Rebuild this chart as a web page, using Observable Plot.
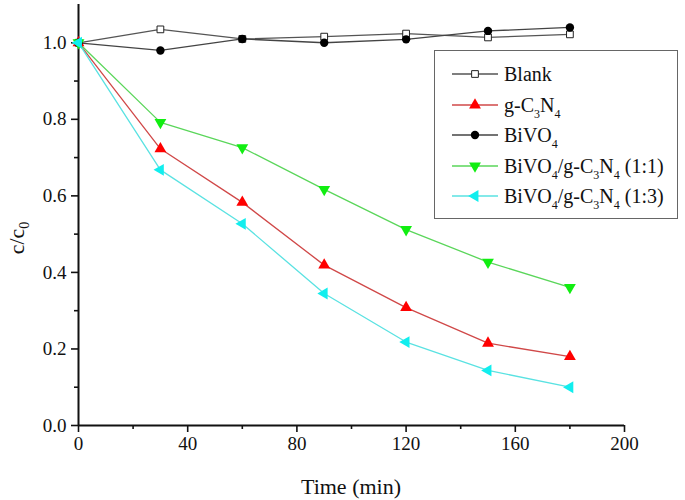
<!DOCTYPE html>
<html>
<head>
<meta charset="utf-8">
<script src="https://cdn.jsdelivr.net/npm/d3@7"></script>
<script src="https://cdn.jsdelivr.net/npm/@observablehq/plot@0.6"></script>
<style>
  html, body { margin: 0; padding: 0; background: #fff; }
  #wrap { position: relative; width: 685px; height: 500px; font-family: "Liberation Serif", "Tinos", "DejaVu Serif", serif; }
  #wrap svg text { font-family: "Liberation Serif", "Tinos", "DejaVu Serif", serif; }
  #legend { position: absolute; left: 434px; top: 50px; width: 244px; height: 169px; border: 1.3px solid #666; background: #fff; box-sizing: border-box; }
  .row { position: absolute; left: 0; height: 30px; display: flex; align-items: center; }
  .row svg { margin-left: 17px; }
  .row span { margin-left: 4px; font-size: 20px; color: #111; white-space: nowrap; line-height: 20px; font-family: "Liberation Serif", "Tinos", "DejaVu Serif", serif; }
  .row sub { font-size: 12px; vertical-align: -6px; line-height: 0; }
</style>
</head>
<body>
<div id="wrap"></div>
<script>
// ---- data ----
const times = [0, 30, 60, 90, 120, 150, 180];
const blank = [1.0, 1.035, 1.01, 1.016, 1.024, 1.014, 1.022];
const gC3N4 = [1.0, 0.723, 0.583, 0.419, 0.308, 0.215, 0.180];
const bivo4 = [1.0, 0.98, 1.01, 1.0, 1.009, 1.031, 1.04];
const bg11 = [1.0, 0.792, 0.726, 0.617, 0.512, 0.427, 0.361];
const bg13 = [1.0, 0.668, 0.527, 0.345, 0.218, 0.144, 0.100];
const seriesNames = ["Blank", "g-C3N4", "BiVO4", "BiVO4/g-C3N4 (1:1)", "BiVO4/g-C3N4 (1:3)"];
const seriesLabels = ["Blank", "g-C<sub>3</sub>N<sub>4</sub>", "BiVO<sub>4</sub>",
  "BiVO<sub>4</sub>/g-C<sub>3</sub>N<sub>4</sub> (1:1)", "BiVO<sub>4</sub>/g-C<sub>3</sub>N<sub>4</sub> (1:3)"];
const xTicks = [0, 40, 80, 120, 160, 200];
const xMinor = [20, 60, 100, 140, 180];
const yTicks = [0, 0.2, 0.4, 0.6, 0.8, 1.0];
const yMinor = [0.1, 0.3, 0.5, 0.7, 0.9];

const FONT = "'Liberation Serif', 'Tinos', 'DejaVu Serif', serif";

// ---- styles ----
const styles = [
  {line: "#555", fill: "#fff", stroke: "#222", symbol: "square", rotate: 0, r: 3.8},
  {line: "#d04848", fill: "#ff0000", stroke: "none", symbol: "triangle", rotate: 0, r: 4.4},
  {line: "#444", fill: "#000", stroke: "none", symbol: "circle", rotate: 0, r: 4.2},
  {line: "#5ad65a", fill: "#11ee11", stroke: "none", symbol: "triangle", rotate: 180, r: 4.4},
  {line: "#5ae2e2", fill: "#11eeee", stroke: "none", symbol: "triangle", rotate: -90, r: 4.4}
];
const allValues = [blank, gC3N4, bivo4, bg11, bg13];
const table = allValues.map((vals, i) => times.map((t, j) => ({t, v: vals[j], s: seriesNames[i]})));

const marks = [];
table.forEach((rows, i) => {
  marks.push(Plot.line(rows, {x: "t", y: "v", stroke: styles[i].line, strokeWidth: 1.3}));
});
table.forEach((rows, i) => {
  const st = styles[i];
  marks.push(Plot.dot(rows, {x: "t", y: "v", symbol: st.symbol, r: st.r, fill: st.fill,
    stroke: st.stroke, strokeWidth: st.stroke === "none" ? 0 : 1, rotate: st.rotate}));
});

const chart = Plot.plot({
  width: 685, height: 500,
  marginLeft: 78, marginRight: 61, marginTop: 4, marginBottom: 75,
  style: {fontFamily: FONT, fontSize: "19px", color: "#111", background: "#fff"},
  x: {domain: [0, 200]},
  y: {domain: [0, 1.1]},
  marks: [
    Plot.axisX({ticks: xTicks, tickSize: 7, tickPadding: 4, strokeWidth: 1.6, fontSize: 19, label: null, stroke: "#111"}),
    Plot.axisX({ticks: xMinor, tickSize: 4, tickFormat: () => "", strokeWidth: 1.6, label: null, stroke: "#111"}),
    Plot.axisY({ticks: yTicks, tickSize: 7, tickPadding: 5, strokeWidth: 1.6, fontSize: 19, tickFormat: d3.format(".1f"), label: null, stroke: "#111"}),
    Plot.axisY({ticks: yMinor, tickSize: 4, tickFormat: () => "", strokeWidth: 1.6, label: null, stroke: "#111"}),
    Plot.ruleX([0], {stroke: "#111", strokeWidth: 2}),
    Plot.ruleY([0], {stroke: "#111", strokeWidth: 2}),
    ...marks
  ]
});

const wrap = document.getElementById("wrap");
wrap.appendChild(chart);

// axis titles
const svg = d3.select(chart);
svg.append("text")
  .attr("x", 78 + (685 - 78 - 61) / 2).attr("y", 494)
  .attr("text-anchor", "middle").attr("font-size", 22).attr("fill", "#111")
  .style("font-family", FONT)
  .text("Time (min)");
const yl = svg.append("text")
  .attr("transform", "translate(24,238) rotate(-90)")
  .attr("text-anchor", "middle").attr("font-size", 22).attr("fill", "#111")
  .style("font-family", FONT);
yl.append("tspan").text("c/c");
yl.append("tspan").attr("font-size", 14).attr("dy", 5).text("0");

// legend
const legend = document.createElement("div");
legend.id = "legend";
wrap.appendChild(legend);
seriesLabels.forEach((lab, i) => {
  const st = styles[i];
  const row = document.createElement("div");
  row.className = "row";
  row.style.top = (8 + i * 30.5) + "px";
  const s = d3.create("svg").attr("width", 48).attr("height", 20);
  s.append("line").attr("x1", 0).attr("x2", 46).attr("y1", 10).attr("y2", 10)
    .attr("stroke", st.line).attr("stroke-width", 1.3);
  const symType = {square: d3.symbolSquare, triangle: d3.symbolTriangle, circle: d3.symbolCircle}[st.symbol];
  s.append("path").attr("d", d3.symbol(symType, Math.PI * st.r * st.r)())
    .attr("transform", `translate(23,10) rotate(${st.rotate})`)
    .attr("fill", st.fill).attr("stroke", st.stroke === "none" ? "none" : st.stroke).attr("stroke-width", 1);
  row.appendChild(s.node());
  const sp = document.createElement("span");
  sp.innerHTML = lab;
  row.appendChild(sp);
  legend.appendChild(row);
});
</script>
</body>
</html>
